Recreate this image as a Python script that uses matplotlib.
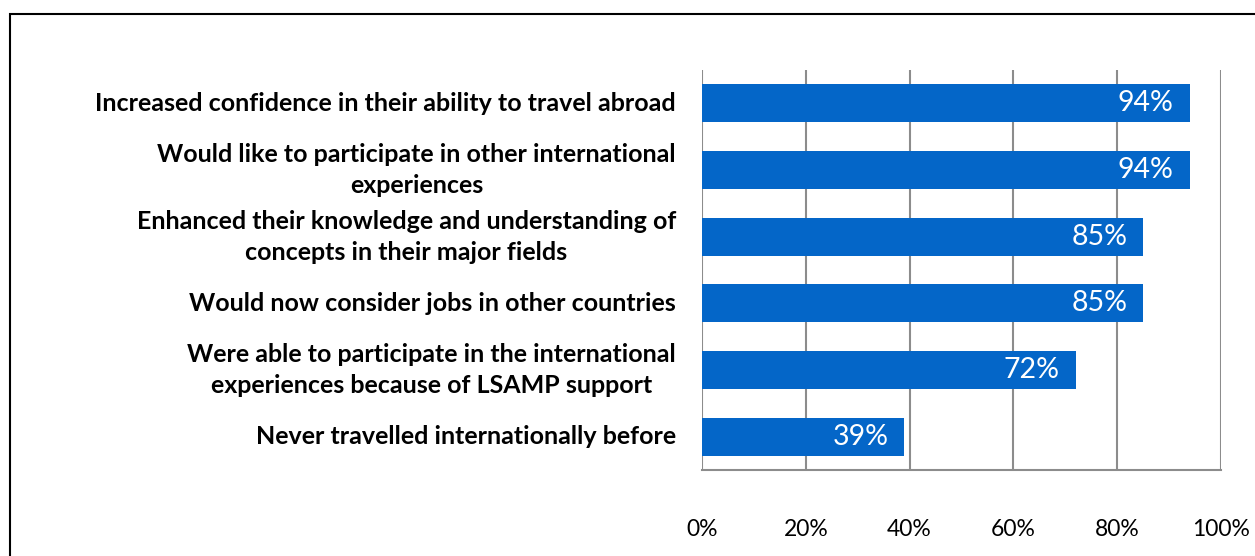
import matplotlib
matplotlib.use("Agg")
import matplotlib.pyplot as plt
from matplotlib.patches import Rectangle

categories = [
    "Increased confidence in their ability to travel abroad",
    "Would like to participate in other international\nexperiences",
    "Enhanced their knowledge and understanding of\nconcepts in their major fields",
    "Would now consider jobs in other countries",
    "Were able to participate in the international\nexperiences because of LSAMP support",
    "Never travelled internationally before",
]
values = [94, 94, 85, 85, 72, 39]
xticks = [0, 20, 40, 60, 80, 100]
xticklabels = ["0%", "20%", "40%", "60%", "80%", "100%"]

W, H = 1255, 556
fig = plt.figure(figsize=(W / 100, H / 100), dpi=100)
fig.patch.set_facecolor("white")
fig.patches.append(Rectangle((10 / W, -0.1), 1.2, 1 - 14 / H + 0.1, transform=fig.transFigure,
                             fill=False, edgecolor="black", linewidth=1.5))

ax = fig.add_axes([702 / W, 1 - 470 / H, (1221 - 702) / W, 400 / H])
bar_color = "#0466C8"
grid_color = "#8C8C8C"
ypos = list(range(len(categories)))
ax.barh(ypos, values, height=0.57, color=bar_color, zorder=3)
ax.set_ylim(len(categories) - 0.5, -0.5)
ax.set_xlim(0, 100)
ax.set_xticks(xticks)
ax.set_xticklabels(xticklabels, fontsize=16.5, family="Lato")
ax.tick_params(axis="x", length=0, pad=35)
ax.set_yticks([])
for t in xticks:
    ax.axvline(t, color=grid_color, linewidth=1.5, zorder=1)
for s in ["top", "right", "left"]:
    ax.spines[s].set_visible(False)
ax.spines["bottom"].set_color(grid_color)
ax.spines["bottom"].set_linewidth(1.5)

for y, v in zip(ypos, values):
    ax.annotate(f"{v}%", xy=(v, y), xytext=(-16, 0), textcoords="offset pixels",
                ha="right", va="center", color="white", fontsize=20.5, family="Lato", zorder=4)

for y, c in zip(ypos, categories):
    ax.annotate(c, xy=(0, y), xycoords=("axes fraction", "data"), xytext=(-26, 0),
                textcoords="offset pixels", ha="right", va="center", fontsize=18,
                fontweight="bold", family="Lato", multialignment="center", linespacing=1.42)

fig.savefig("out.png", dpi=100)
